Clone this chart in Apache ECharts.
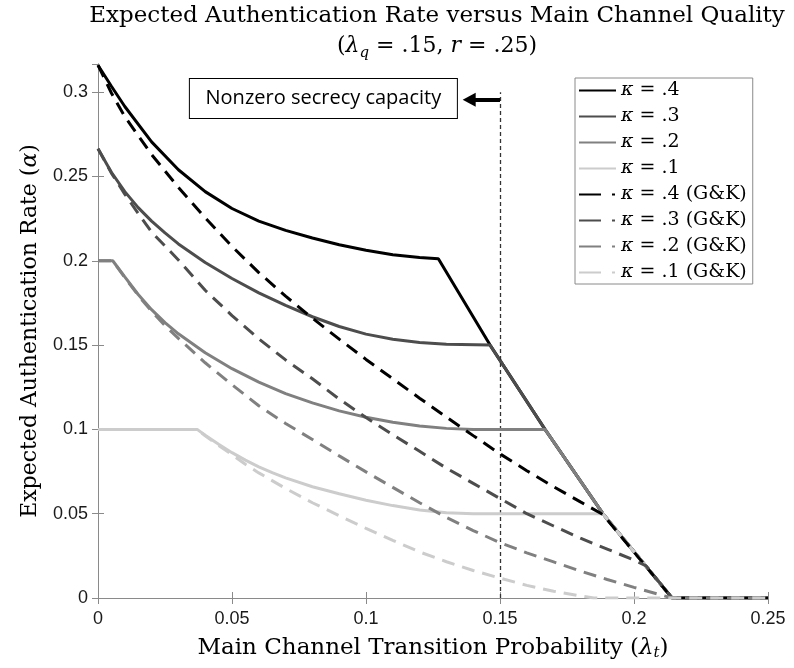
<!DOCTYPE html>
<html>
<head>
<meta charset="utf-8">
<script src="https://cdn.jsdelivr.net/npm/echarts@6/dist/echarts.min.js"></script>
<style>
  html, body { margin: 0; padding: 0; background: #fff; }
  #chart { width: 794px; height: 668px; }
</style>
</head>
<body>
<div id="chart"></div>
<script>
// ---------- data (x = lambda_t, y = expected authentication rate) ----------
const xTickLabels = ['0', '0.05', '0.1', '0.15', '0.2', '0.25'];
const yTickLabels = ['0', '0.05', '0.1', '0.15', '0.2', '0.25', '0.3'];

const kappa4 = [[0,0.316],[0.005,0.3035],[0.01,0.2915],[0.02,0.2705],[0.03,0.2540],[0.04,0.2410],[0.05,0.2310],[0.06,0.2235],[0.07,0.2180],[0.08,0.2135],[0.09,0.2095],[0.10,0.2062],[0.11,0.2036],[0.12,0.2019],[0.127,0.2012],
  [0.1463,0.150],[0.1668,0.100],[0.1884,0.050],[0.2142,0],[0.25,0]];
const kappa3 = [[0,0.2665],[0.005,0.2525],[0.01,0.2410],[0.015,0.2315],[0.02,0.2235],[0.025,0.2165],[0.03,0.2100],[0.04,0.1990],[0.05,0.1895],[0.06,0.1810],[0.07,0.1735],[0.08,0.1668],[0.09,0.1610],[0.10,0.1565],[0.11,0.1535],[0.12,0.1515],[0.13,0.1505],[0.1463,0.1500],
  [0.1668,0.100],[0.1884,0.050],[0.2142,0],[0.25,0]];
const kappa2 = [[0,0.2],[0.0055,0.2],[0.01,0.1905],[0.015,0.1800],[0.02,0.1710],[0.025,0.1633],[0.03,0.1567],[0.04,0.1455],[0.05,0.1360],[0.06,0.1280],[0.07,0.1212],[0.08,0.1157],[0.09,0.1110],[0.10,0.1072],[0.11,0.1042],[0.12,0.1020],[0.13,0.1006],[0.14,0.1000],[0.1668,0.1000],
  [0.1884,0.050],[0.2142,0],[0.25,0]];
const kappa1 = [[0,0.1],[0.037,0.1],[0.04,0.0965],[0.045,0.0912],[0.05,0.0862],[0.055,0.0818],[0.06,0.0778],[0.065,0.0743],[0.07,0.0712],[0.08,0.0660],[0.09,0.0618],[0.10,0.0580],[0.11,0.0548],[0.12,0.0522],[0.13,0.0506],[0.14,0.0500],[0.1884,0.0500],
  [0.2142,0],[0.25,0]];

const gk4 = [[0,0.316],[0.005,0.2995],[0.01,0.2855],[0.02,0.2630],[0.03,0.2435],[0.04,0.2255],[0.05,0.2085],[0.06,0.1930],[0.07,0.1790],[0.08,0.1660],[0.09,0.1535],[0.10,0.1415],[0.11,0.1300],[0.12,0.1185],[0.13,0.1073],[0.14,0.0963],[0.15,0.0855],[0.16,0.0755],[0.17,0.0660],[0.18,0.0570],[0.1884,0.0495],[0.2142,0],[0.25,0]];
const gk3 = [[0,0.2665],[0.005,0.2520],[0.01,0.2395],[0.015,0.2280],[0.02,0.2170],[0.03,0.2005],[0.04,0.1825],[0.05,0.1675],[0.06,0.1537],[0.07,0.1412],[0.08,0.1300],[0.09,0.1180],[0.10,0.1070],[0.11,0.0968],[0.12,0.0870],[0.13,0.0770],[0.14,0.0680],[0.15,0.0590],[0.16,0.0500],[0.17,0.0427],[0.18,0.0355],[0.19,0.0290],[0.20,0.0225],[0.2045,0.0190],[0.2142,0],[0.25,0]];
const gk2 = [[0,0.2],[0.0055,0.2],[0.01,0.1900],[0.015,0.1795],[0.02,0.1700],[0.025,0.1615],[0.03,0.1540],[0.04,0.1395],[0.05,0.1265],[0.06,0.1140],[0.07,0.1035],[0.08,0.0940],[0.09,0.0843],[0.10,0.0748],[0.11,0.0656],[0.12,0.0565],[0.13,0.0478],[0.14,0.0400],[0.15,0.0328],[0.16,0.0268],[0.17,0.0214],[0.18,0.0160],[0.19,0.0110],[0.20,0.0063],[0.2142,0],[0.25,0]];
const gk1 = [[0,0.1],[0.037,0.1],[0.04,0.0962],[0.045,0.0905],[0.05,0.0850],[0.055,0.0793],[0.06,0.0742],[0.07,0.0650],[0.08,0.0565],[0.09,0.0488],[0.10,0.0413],[0.11,0.0342],[0.12,0.0273],[0.13,0.0215],[0.14,0.0163],[0.15,0.0118],[0.16,0.0075],[0.17,0.0040],[0.18,0.0012],[0.185,0],[0.25,0]];

const seriesNames = ['κ = .4', 'κ = .3', 'κ = .2', 'κ = .1', 'κ = .4 (G&K)', 'κ = .3 (G&K)', 'κ = .2 (G&K)', 'κ = .1 (G&K)'];
const seriesData = [kappa4, kappa3, kappa2, kappa1, gk4, gk3, gk2, gk1];
const seriesColors = ['#000000', '#4d4d4d', '#808080', '#cccccc', '#000000', '#4d4d4d', '#808080', '#cccccc'];

// annotation anchors (data coordinates)
const threshold = 0.15;           // lambda_q
const noteText = 'Nonzero secrecy capacity';
const noteAt = [0.0841, 0.2963];
const arrowFrom = [0.1500, 0.2955];
const arrowTo = [0.1385, 0.2955];

// ---------- chart ----------
const chart = echarts.init(document.getElementById('chart'), null, { renderer: 'canvas' });
const SERIF = 'DejaVu Serif';
const SANS = 'Liberation Sans';
const frameColor = '#8a8a8a';

function tickFmt(labels) {
  return function (v) {
    const i = Math.round(v / 0.05);
    return Math.abs(v - i * 0.05) < 1e-6 && labels[i] !== undefined ? labels[i] : '';
  };
}

const series = seriesData.map((d, i) => ({
  name: seriesNames[i],
  type: 'line',
  data: d,
  symbol: 'none',
  silent: true,
  z: 3 + i,
  lineStyle: { color: seriesColors[i], width: 3, type: i < 4 ? 'solid' : [13, 8], cap: 'butt' },
  itemStyle: { color: seriesColors[i] }
}));

series.push({
  name: 'threshold',
  type: 'line',
  data: [],
  symbol: 'none',
  z: 2,
  markLine: {
    silent: true, symbol: 'none', animation: false,
    label: { show: false },
    lineStyle: { color: '#333333', width: 1.3, type: [4, 3] },
    data: [[{ coord: [threshold, 0] }, { coord: [threshold, 0.3] }]]
  }
});
series.push({
  name: 'arrow',
  type: 'line',
  data: [],
  symbol: 'none',
  z: 20,
  markLine: {
    silent: true, symbol: ['none', 'triangle'], symbolSize: [14, 13], animation: false,
    label: { show: false },
    lineStyle: { color: '#000000', width: 4, type: 'solid' },
    data: [[{ coord: arrowFrom }, { coord: arrowTo }]]
  },
  markPoint: {
    silent: true, animation: false,
    symbol: 'rect', symbolSize: 1,
    itemStyle: { color: 'rgba(0,0,0,0)' },
    label: {
      show: true, position: 'inside', formatter: noteText,
      color: '#000', fontFamily: 'Open Sans', fontSize: 20, lineHeight: 21,
      backgroundColor: '#ffffff', borderColor: '#000000', borderWidth: 1,
      width: 247, height: 21, padding: [9, 10], align: 'center', verticalAlign: 'middle'
    },
    data: [{ coord: noteAt }]
  }
});

const option = {
  animation: false,
  backgroundColor: '#ffffff',
  title: {
    text: 'Expected Authentication Rate versus Main Channel Quality\n{p|(}{l|λ}{s|q}{p| = .15, }{l|r}{p| = .25)}',
    left: 437, top: 1, padding: 0, textAlign: 'center',
    textStyle: {
      fontFamily: SERIF, fontSize: 23, fontWeight: 'normal', color: '#000', lineHeight: 30,
      rich: {
        p: { fontFamily: SERIF, fontSize: 22, lineHeight: 30, color: '#000' },
        l: { fontFamily: SERIF, fontSize: 22, lineHeight: 30, fontStyle: 'italic', color: '#000' },
        s: { fontFamily: SERIF, fontSize: 15, lineHeight: 15, fontStyle: 'italic', verticalAlign: 'bottom', color: '#000' }
      }
    }
  },
  legend: {
    orient: 'vertical', left: 575, top: 78,
    data: seriesNames.map((n, i) => i < 4 ? { name: n } : { name: n, lineStyle: { type: [22, 11, 3, 20] } }),
    itemWidth: 37, itemHeight: 14, itemGap: 7,
    padding: [3, 6, 2, 3],
    itemStyle: { opacity: 0 },
    backgroundColor: '#ffffff', borderColor: '#8a8a8a', borderWidth: 1, borderRadius: 0,
    formatter: n => '{i|κ}' + n.slice(1),
    textStyle: {
      fontFamily: SERIF, fontSize: 19, color: '#000', lineHeight: 19,
      rich: { i: { fontFamily: SERIF, fontSize: 19, fontStyle: 'italic', color: '#000', lineHeight: 19 } }
    },
    selectedMode: false
  },
  grid: { left: 98, right: 26, top: 64, bottom: 70, containLabel: false },
  xAxis: [
    {
      type: 'value', min: 0, max: 0.25, interval: 0.05, position: 'bottom',
      axisLine: { show: true, lineStyle: { color: frameColor, width: 1 } },
      axisTick: { show: true, inside: true, length: 6, lineStyle: { color: frameColor } },
      axisLabel: { formatter: tickFmt(xTickLabels), fontFamily: SANS, fontSize: 18, color: '#1a1a1a', margin: 12 },
      splitLine: { show: false },
      name: 'Main Channel Transition Probability ({l|λ}{s|t})', nameLocation: 'middle', nameGap: 37,
      nameTextStyle: {
        fontFamily: SERIF, fontSize: 23, color: '#000', lineHeight: 26,
        rich: {
          l: { fontFamily: SERIF, fontSize: 23, lineHeight: 26, fontStyle: 'italic', color: '#000' },
          s: { fontFamily: SERIF, fontSize: 15, lineHeight: 15, fontStyle: 'italic', verticalAlign: 'bottom', color: '#000' }
        }
      }
    },
    {
      type: 'value', min: 0, max: 0.25, interval: 0.05, position: 'top',
      axisLine: { show: true, lineStyle: { color: frameColor, width: 1 } },
      axisTick: { show: true, inside: true, length: 6, lineStyle: { color: frameColor } },
      axisLabel: { show: false }, splitLine: { show: false }
    }
  ],
  yAxis: [
    {
      type: 'value', min: 0, max: 0.3167, interval: 0.05, position: 'left',
      axisLine: { show: true, lineStyle: { color: frameColor, width: 1 } },
      axisTick: { show: true, inside: true, length: 6, lineStyle: { color: frameColor } },
      axisLabel: { formatter: tickFmt(yTickLabels), fontFamily: SANS, fontSize: 18, color: '#1a1a1a', margin: 10, showMaxLabel: false },
      splitLine: { show: false },
      name: 'Expected Authentication Rate ({a|α})', nameLocation: 'middle', nameGap: 57,
      nameTextStyle: {
        fontFamily: SERIF, fontSize: 22, color: '#000',
        rich: { a: { fontFamily: SERIF, fontSize: 22, fontStyle: 'italic', color: '#000' } }
      }
    },
    {
      type: 'value', min: 0, max: 0.3167, interval: 0.05, position: 'right',
      axisLine: { show: true, lineStyle: { color: frameColor, width: 1 } },
      axisTick: { show: true, inside: true, length: 6, lineStyle: { color: frameColor } },
      axisLabel: { show: false }, splitLine: { show: false }
    }
  ],
  series: series
};
chart.setOption(option);
</script>
</body>
</html>
